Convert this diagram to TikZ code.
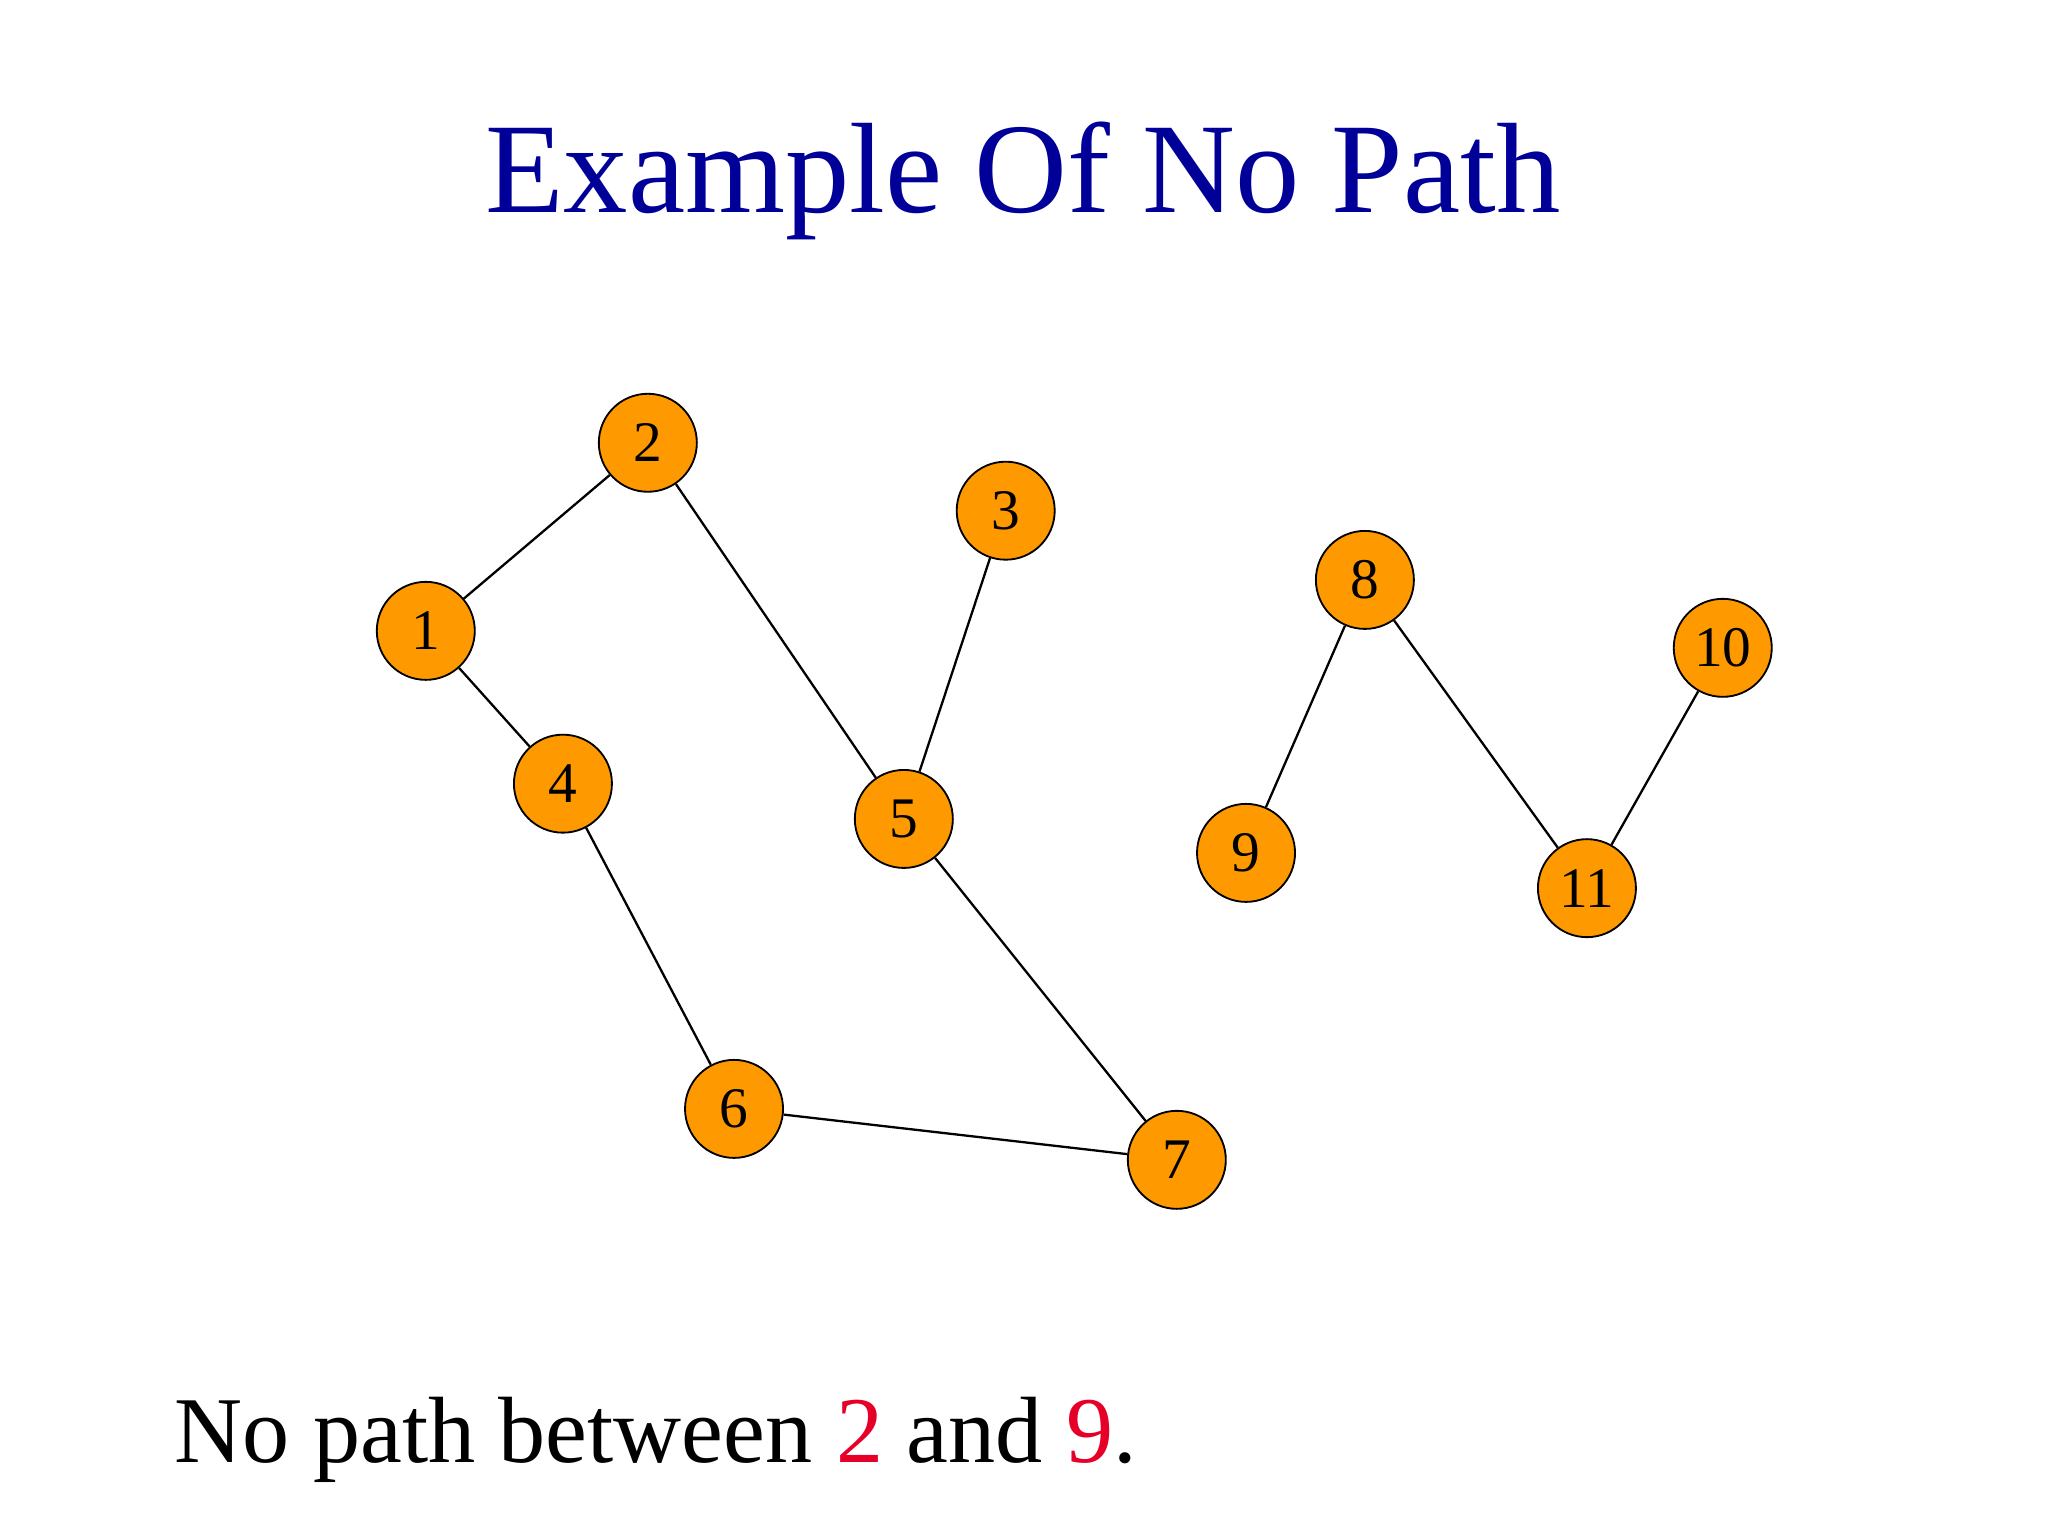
\documentclass[tikz,border=0pt]{standalone}
\usepackage{fontspec}
\setmainfont{Liberation Serif}
\definecolor{tblue}{RGB}{0,0,153}
\definecolor{orng}{RGB}{255,153,0}
\definecolor{nred}{RGB}{230,0,40}
\begin{document}
\begin{tikzpicture}[x=0.01cm,y=-0.01cm,
  vert/.style={circle,draw=black,fill=orng,minimum size=0.75cm,inner sep=0pt,font=\fontsize{12.5}{14}\selectfont},
  edge/.style={draw=black,line width=0.5pt}]
\useasboundingbox (0,0) rectangle (1568,1176);
\node[anchor=base,text=tblue,font=\fontsize{28}{32}\selectfont] (title) at (783,163) {Example Of No Path};
\foreach \n/\x/\y in {1/326/483,2/496/339,3/770/391,4/431/600,5/692/627,6/562/849,7/901/888,8/1045/444,9/954/653,10/1319/496,11/1215/680}
  \node[vert] (n\n) at (\x,\y) {\raisebox{-0.12cm}{\n}};
\draw[edge] (n1) -- (n2);
\draw[edge] (n1) -- (n4);
\draw[edge] (n2) -- (n5);
\draw[edge] (n3) -- (n5);
\draw[edge] (n4) -- (n6);
\draw[edge] (n5) -- (n7);
\draw[edge] (n6) -- (n7);
\draw[edge] (n8) -- (n9);
\draw[edge] (n8) -- (n11);
\draw[edge] (n10) -- (n11);
\node[anchor=base west,font=\fontsize{20.5}{24}\selectfont,inner sep=0pt] (cap) at (133,1120) {No path between \textcolor{nred}{2} and \textcolor{nred}{9}.};
\end{tikzpicture}
\end{document}
